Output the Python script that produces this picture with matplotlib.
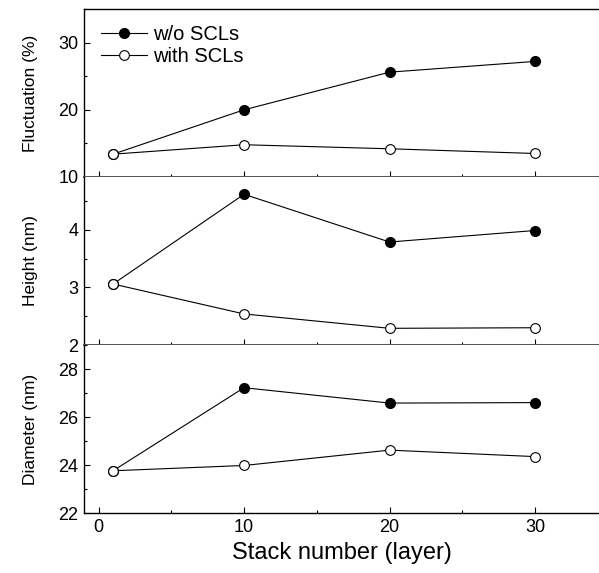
import matplotlib.pyplot as plt
import numpy as np
from matplotlib.ticker import MultipleLocator

plt.rcParams['font.family'] = ['Liberation Sans', 'DejaVu Sans']

layers = [1, 10, 20, 30]

fluct_wo = [13.4, 20.0, 25.6, 27.2]
fluct_with = [13.4, 14.8, 14.2, 13.5]
height_wo = [3.06, 4.62, 3.79, 3.99]
height_with = [3.06, 2.54, 2.29, 2.30]
diam_wo = [23.76, 27.22, 26.58, 26.60]
diam_with = [23.76, 23.98, 24.62, 24.35]

ylabels = ['Fluctuation (%)', 'Height (nm)', 'Diameter (nm)']
ylims = [(10, 35), (2, 4.92), (22, 29)]
ymajor = [10, 1, 2]
yminor = [5, 0.5, 1]

fig = plt.figure(figsize=(5.99, 5.73), dpi=100)
h = 168 / 573
bottoms = [1 - 177 / 573, 1 - 345 / 573, 1 - 513 / 573]
left = 84 / 599

series = [(fluct_wo, fluct_with), (height_wo, height_with), (diam_wo, diam_with)]
axes = []
for i in range(3):
    ax = fig.add_axes([left, bottoms[i], 1 - left, h])
    wo, wi = series[i]
    ax.plot(layers, wo, '-o', color='black', lw=0.8, ms=7,
            mfc='black', mec='black', label='w/o SCLs')
    ax.plot(layers, wi, '-o', color='black', lw=0.8, ms=7,
            mfc='white', mec='black', mew=0.8, label='with SCLs')
    ax.set_xlim(-1, 34.4)
    ax.set_ylim(*ylims[i])
    ax.xaxis.set_major_locator(MultipleLocator(10))
    ax.xaxis.set_minor_locator(MultipleLocator(5))
    ax.yaxis.set_major_locator(MultipleLocator(ymajor[i]))
    ax.yaxis.set_minor_locator(MultipleLocator(yminor[i]))
    ax.tick_params(which='both', direction='in', top=False, right=False,
                   labelsize=13, pad=4)
    ax.tick_params(which='major', length=4, width=0.8)
    ax.tick_params(which='minor', length=2.5, width=0.8)
    ax.spines['right'].set_visible(False)
    if i > 0:
        ax.spines['top'].set_visible(False)
    for s in ['left', 'bottom', 'top']:
        ax.spines[s].set_linewidth(1.0)
    if i < 2:
        ax.tick_params(labelbottom=False)
        ax.spines['bottom'].set_color('#555555')
        ax.spines['bottom'].set_linewidth(1.4)
    ax.set_ylabel(ylabels[i], fontsize=12.5)
    ax.yaxis.set_label_coords(-0.09, 0.5)
    axes.append(ax)

axes[2].set_xlabel('Stack number (layer)', fontsize=17, labelpad=5)
axes[0].legend(loc='upper left', bbox_to_anchor=(0.005, 0.99), frameon=False,
               fontsize=14.5, handlelength=2.3, handletextpad=0.3,
               labelspacing=0.15, borderaxespad=0.3)

fig.savefig('out.png', dpi=100)
